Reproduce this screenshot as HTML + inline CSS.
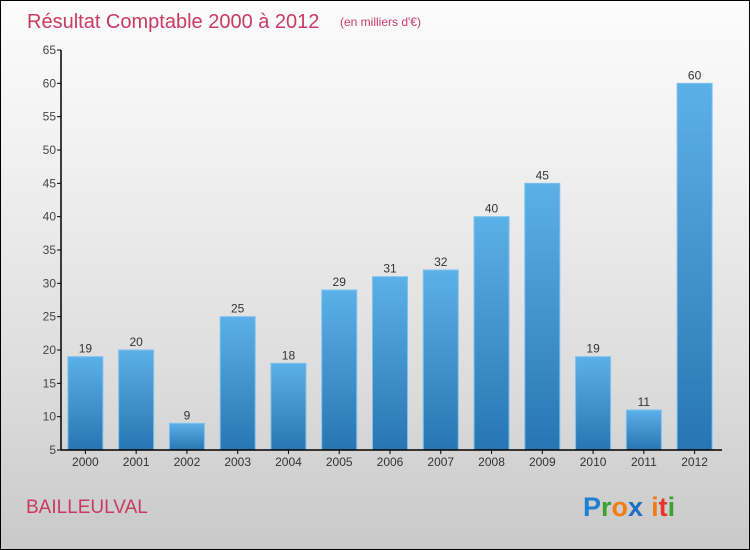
<!DOCTYPE html>
<html><head><meta charset="utf-8"><style>
html,body{margin:0;padding:0}
body{width:750px;height:550px;overflow:hidden}
#wrap{position:absolute;left:0;top:0;width:748px;height:548px;border:1px solid #000;background:linear-gradient(#fcfcfc,#f2f2f2 25%,#dcdcdc 70%,#c9c9c9);font-family:"Liberation Sans",sans-serif}
</style></head><body>
<div id="wrap">
<svg id="chart" width="750" height="550" style="position:absolute;left:-1px;top:-1px">
<defs><linearGradient id="bg" x1="0" y1="0" x2="0" y2="1"><stop offset="0" stop-color="#5cb0e8"/><stop offset="1" stop-color="#2776b3"/></linearGradient></defs>
<text x="27" y="28" font-size="20" fill="#c83a64">Résultat Comptable 2000 à 2012</text>
<text x="340" y="26" font-size="12" fill="#c83a64">(en milliers d'€)</text>
<text x="26" y="513" font-size="19" fill="#c83a64">BAILLEULVAL</text>
<g font-size="27" font-weight="bold" font-family="'Liberation Sans',sans-serif">
<text x="583" y="516"><tspan fill="#1f7fd0">P</tspan><tspan fill="#3aa32e">r</tspan><tspan fill="#f07c14">o</tspan><tspan fill="#1f6fc0">x</tspan><tspan fill="#f07c14" dx="8">i</tspan><tspan fill="#e8322a">t</tspan><tspan fill="#3aa32e">i</tspan></text>
</g>
</svg>
</div>
<script>
const years=["2000","2001","2002","2003","2004","2005","2006","2007","2008","2009","2010","2011","2012"];
const values=[19,20,9,25,18,29,31,32,40,45,19,11,60];
const yTicks=[5,10,15,20,25,30,35,40,45,50,55,60,65];
const svg=document.getElementById('chart');
const NS='http://www.w3.org/2000/svg';
const x0=60,x1=720,axisL=61,axisR=722,yTop=50,yBot=450,vMin=5,vMax=65;
const band=(x1-x0)/years.length;
function y(v){return yBot-(v-vMin)/(vMax-vMin)*(yBot-yTop);}
function xc(i){return x0+band*(i+0.5);}
function mk(t,a){const e=document.createElementNS(NS,t);for(const k in a)e.setAttribute(k,a[k]);svg.appendChild(e);return e;}
years.forEach((yr,i)=>{
 const r=mk('rect',{x:xc(i)-17.5,y:y(values[i]),width:35,height:yBot-y(values[i]),fill:'url(#bg)',stroke:'#7cc2ee','stroke-width':1});
 
 
 const t=mk('text',{x:xc(i),y:y(values[i])-4,'text-anchor':'middle','font-size':12,fill:'#333'});
 t.textContent=values[i];
 
 
 const xl=mk('text',{x:xc(i),y:466,'text-anchor':'middle','font-size':12,fill:'#333'});
 xl.textContent=yr;
 
 
 const tk=mk('line',{x1:xc(i),x2:xc(i),y1:yBot,y2:yBot+4,stroke:'#000'});
 
 
});
yTicks.forEach(v=>{
 const l=mk('line',{x1:axisL-4,x2:axisL,y1:y(v),y2:y(v),stroke:'#000'});
 
 
 const t=mk('text',{x:axisL-5,y:y(v)+4,'text-anchor':'end','font-size':12,fill:'#444'});
 t.textContent=v;
 
 
});
const ya=mk('line',{x1:axisL,x2:axisL,y1:yTop,y2:yBot,stroke:'#000','stroke-width':1.5});


const xa=mk('line',{x1:axisL,x2:axisR,y1:yBot,y2:yBot,stroke:'#000','stroke-width':1.5});


</script>
</body></html>
